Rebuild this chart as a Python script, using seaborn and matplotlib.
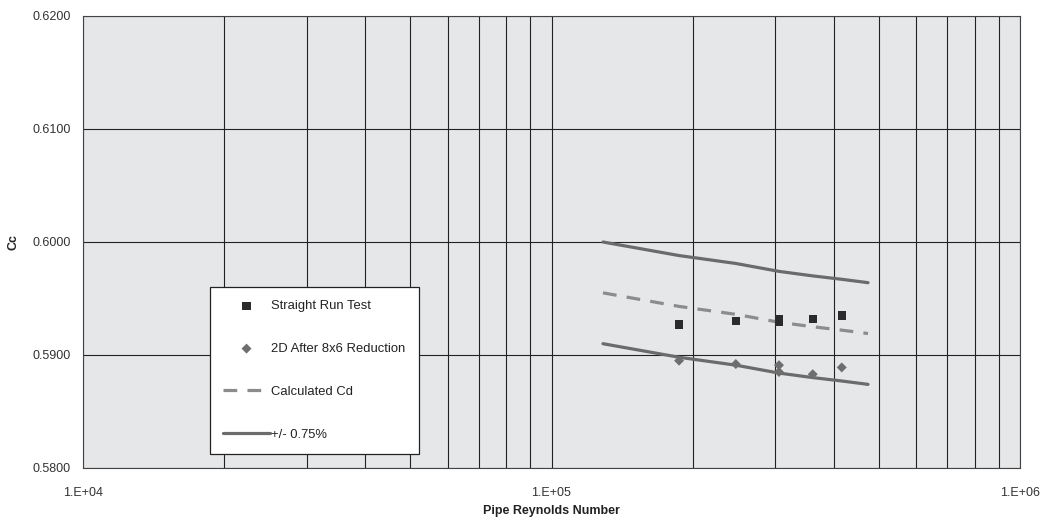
import numpy as np
import pandas as pd
import seaborn as sns
import matplotlib.pyplot as plt
from matplotlib.ticker import FixedLocator, FuncFormatter, NullFormatter

# data
straight_re = [187200, 247400, 305900, 305900, 361100, 416400]
straight_cc = [0.5927, 0.5930, 0.5932, 0.5929, 0.5932, 0.5935]

reduction_re = [187200, 247400, 305900, 305900, 361100, 416400]
reduction_cc = [0.5895, 0.5892, 0.5891, 0.5885, 0.5883, 0.5889]

line_re = [128800, 187200, 247400, 305900, 361100, 416400, 473800]
calc_cd = [0.5955, 0.5943, 0.5936, 0.5929, 0.5925, 0.5922, 0.5919]
upper_cd = [0.6000, 0.5988, 0.5981, 0.5974, 0.5970, 0.5967, 0.5964]
lower_cd = [0.5910, 0.5898, 0.5891, 0.5884, 0.5880, 0.5877, 0.5874]

sns.set_theme(style="white")
plt.rcParams['font.family'] = ['Liberation Sans', 'DejaVu Sans']

fig = plt.figure(figsize=(10.5, 5.27), dpi=100)
ax = fig.add_axes([83 / 1050, 59 / 527, 937 / 1050, 452 / 527])
ax.set_facecolor('#e6e7e9')

df_s = pd.DataFrame({'Re': straight_re, 'Cc': straight_cc})
df_r = pd.DataFrame({'Re': reduction_re, 'Cc': reduction_cc})
df_l = pd.DataFrame({'Re': line_re, 'calc': calc_cd, 'upper': upper_cd, 'lower': lower_cd})

sns.lineplot(data=df_l, x='Re', y='upper', ax=ax, color='#6b6b6b', lw=2.3,
             label='+/- 0.75%', zorder=3)
sns.lineplot(data=df_l, x='Re', y='lower', ax=ax, color='#6b6b6b', lw=2.3,
             label='_nolegend_', zorder=3)
sns.lineplot(data=df_l, x='Re', y='calc', ax=ax, color='#8c8c8c', lw=2.3,
             linestyle=(0, (4.3, 3.2)), label='Calculated Cd', zorder=3)
sns.scatterplot(data=df_s, x='Re', y='Cc', ax=ax, marker='s', s=36, color='#2b2b2b',
                edgecolor='none', label='Straight Run Test', zorder=4)
sns.scatterplot(data=df_r, x='Re', y='Cc', ax=ax, marker='D', s=26, color='#6e6e6e',
                edgecolor='none', label='2D After 8x6 Reduction', zorder=4)

ax.set_xscale('log')
ax.set_xlim(1e4, 1e6)
ax.set_ylim(0.58, 0.62)

ax.xaxis.set_major_locator(FixedLocator([1e4, 1e5, 1e6]))
ax.xaxis.set_major_formatter(FuncFormatter(lambda v, p: '1.E+%02d' % round(np.log10(v))))
minor = [m * 10 ** e for e in (4, 5) for m in range(2, 10)]
ax.xaxis.set_minor_locator(FixedLocator(minor))
ax.xaxis.set_minor_formatter(NullFormatter())
ax.set_yticks([0.58, 0.59, 0.60, 0.61, 0.62])
ax.yaxis.set_major_formatter(FuncFormatter(lambda v, p: '%.4f' % v))

ax.grid(True, which='both', axis='x', color='#222222', lw=0.8)
ax.grid(True, which='major', axis='y', color='#222222', lw=0.8)
ax.tick_params(axis='both', which='major', direction='out', length=4, width=0.8,
               color='#555555', labelsize=9, labelcolor='#333333', pad=5)
ax.tick_params(axis='x', which='minor', length=0)
ax.tick_params(axis='x', which='major', pad=10)
for sp in ax.spines.values():
    sp.set_color('#444444')
    sp.set_linewidth(0.8)

ax.set_xlabel('Pipe Reynolds Number', fontsize=9, fontweight='bold', color='#222222', labelpad=4)
ax.set_ylabel('Cc', fontsize=9, fontweight='bold', color='#222222', labelpad=9)

handles, labels = ax.get_legend_handles_labels()
order = ['Straight Run Test', '2D After 8x6 Reduction', 'Calculated Cd', '+/- 0.75%']
hl = dict(zip(labels, handles))
leg = ax.legend([hl[k] for k in order], order, loc='upper left',
                bbox_to_anchor=(0.1355, 0.4004), fontsize=9.4, frameon=True, fancybox=False,
                edgecolor='#222222', facecolor='white', framealpha=1,
                labelspacing=2.35, borderpad=1.0, handlelength=3.6, handletextpad=0.1,
                borderaxespad=0)
leg.get_frame().set_linewidth(0.9)
for t in leg.get_texts():
    t.set_color('#222222')

fig.savefig('out.png', dpi=100)
